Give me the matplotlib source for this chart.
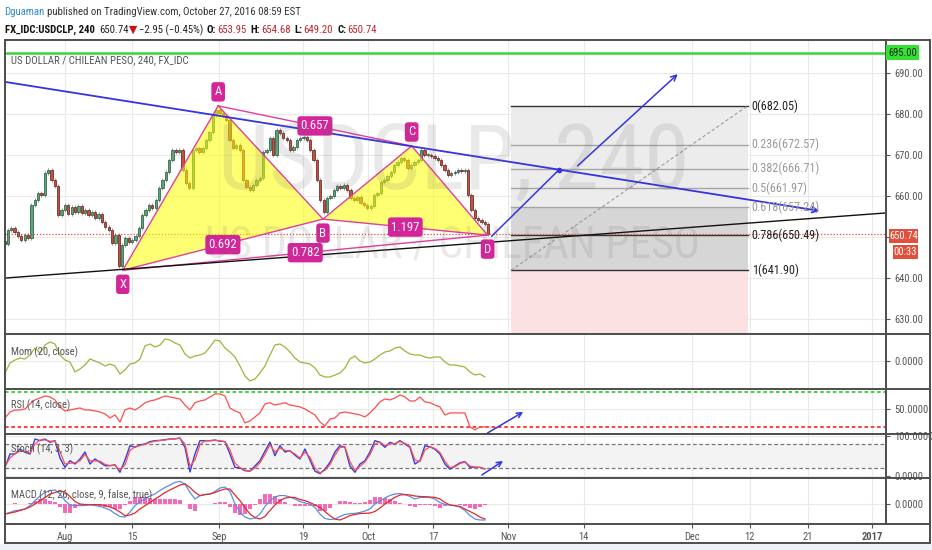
import numpy as np
import matplotlib
matplotlib.use('Agg')
import matplotlib.pyplot as plt
from matplotlib import font_manager as fm
from matplotlib.patches import Polygon, Rectangle
from matplotlib.lines import Line2D

# ---------------- data ----------------
header_user = "Dguaman"
header_rest = "published on TradingView.com, October 27, 2016 08:59 EST"
symbol = "FX_IDC:USDCLP, 240"
last_price_txt = "650.74"
change_txt = "\u22122.95 (\u22120.45%)"
ohlc_keys = ["O:", "H:", "L:", "C:"]
ohlc_vals = ["653.95", "654.68", "649.20", "650.74"]
chart_title = "US DOLLAR / CHILEAN PESO, 240, FX_IDC"
watermark_big = "USDCLP, 240"
watermark_small = "US DOLLAR / CHILEAN PESO"

date_tick_pos = [0, 10, 22.9, 35.4, 45.1, 54.8, 66.0, 77.2, 93.3, 101.9, 110.6, 120.1]
date_tick_labels = ["Aug", "15", "Sep", "19", "Oct", "17", "Nov", "14", "Dec", "12", "21", "2017"]
price_ticks = [630, 640, 650, 660, 670, 680, 690]

first_open = 649.0
closes = [
    648.4, 651.7, 652.2, 651.2, 650.3, 649.3, 650.5, 649.8, 657.8, 659.1,
    660.8, 660.3, 665.6, 666.4, 663.9, 662.5, 655.4, 656.6, 657.8, 655.6,
    657.3, 656.1, 657.5, 655.9, 656.6, 655.4, 656.1, 654.7, 655.6, 653.7,
    652.5, 651.7, 648.6, 650.5, 643.0, 648.1, 649.8, 648.8, 649.3, 650.3,
    652.2, 655.4, 656.6, 657.8, 657.0, 659.1, 662.0, 663.9, 665.9, 668.8,
    671.3, 670.8, 671.3, 666.4, 663.2, 662.0, 671.3, 671.8, 670.8, 671.8,
    673.7, 675.7, 679.8, 681.0, 680.3, 679.5, 678.6, 673.7, 671.8, 672.5,
    671.3, 663.9, 662.3, 661.5, 662.7, 663.9, 664.4, 670.8, 671.3, 674.2,
    670.0, 676.2, 675.4, 674.2, 673.7, 671.3, 672.0, 673.7, 674.2, 674.4,
    673.7, 671.3, 668.8, 663.9, 659.1, 656.1, 659.6, 660.1, 661.5, 662.5,
    662.0, 662.7, 661.5, 659.6, 659.1, 659.8, 658.3, 657.8, 657.0, 657.5,
    660.3, 660.8, 663.5, 663.9, 664.9, 665.9, 667.6, 668.3, 669.3, 668.8,
    666.9, 667.6, 668.3, 668.8, 671.3, 670.0, 670.0, 669.8, 669.3, 668.8,
    667.6, 666.4, 665.2, 665.7, 665.9, 666.4, 666.2, 666.4, 660.3, 656.6,
    654.7, 654.2, 653.7, 653.2, 650.7]

pattern_names = ["X", "A", "B", "C", "D"]
pattern_t = [8.6, 22.8, 38.4, 51.6, 62.9]
pattern_price = [641.90, 682.05, 654.40, 672.25, 650.49]
ratio_pairs = [(0, 2), (1, 3), (2, 4), (0, 4)]
ratio_labels = ["0.692", "0.657", "1.197", "0.782"]

fib_ratios = [0, 0.236, 0.382, 0.5, 0.618, 0.786, 1]
fib_prices = [682.05, 672.57, 666.71, 661.97, 657.24, 650.49, 641.90]
fib_t = [66.4, 101.6]

resistance_t = [-8.93, 112.3]
resistance_p = [687.9, 656.4]
support_t = [-8.93, 122.2]
support_p = [640.0, 655.9]
proj1_t = [63.5, 73.5]
proj1_p = [650.2, 666.4]
proj2_t = [76.3, 91.2]
proj2_p = [667.4, 689.8]
alert_level = 695.0
last_price = 650.74

mom = [
    -6.0, -1.0, 0.5, 1.5, 1.0, 3.0, 6.5, 4.0, 8.0, 9.5,
    8.5, 3.0, 0.5, -0.5, -5.5, -4.0, -2.0, 1.0, 0.0, -1.0,
    -2.5, -1.5, -2.5, -6.5, -4.5, -1.5, -1.0, 1.0, 7.5, 8.5,
    7.0, 8.0, 11.0, 10.5, 9.0, 8.0, 3.5, 1.5, 2.5, 3.0,
    4.0, 7.0, 10.5, 10.0, 6.5, 4.5, 2.0, -2.5, -7.5, -10.0,
    -9.0, -6.0, -2.5, 3.0, 8.0, 8.5, 7.0, 4.5, 1.5, -0.5,
    -1.0, -1.5, -3.5, -7.0, -8.0, -8.0, -7.0, -6.0, -3.5, 1.0,
    2.5, 0.0, -1.0, -0.5, 1.0, 3.0, 4.5, 5.0, 6.5, 7.0,
    5.0, 3.5, 3.0, 3.0, 2.0, 1.5, 2.0, 2.0, -0.5, -2.0,
    -2.0, -2.5, -3.0, -5.5, -7.0, -6.5, -8.0]

rsi = [
    40.3, 47.1, 49.4, 49.4, 50.6, 56.3, 60.9, 63.1, 65.4, 64.3,
    60.9, 52.9, 48.3, 49.4, 50.6, 51.7, 49.4, 49.4, 48.3, 47.1,
    44.9, 40.3, 43.7, 35.7, 49.4, 51.7, 49.4, 52.9, 57.7, 59.7,
    60.9, 63.1, 65.4, 64.3, 63.1, 62.0, 55.1, 49.4, 57.7, 59.7,
    60.9, 64.3, 67.7, 67.7, 65.4, 51.7, 48.3, 46.0, 34.6, 36.9,
    41.4, 46.0, 56.3, 57.7, 55.1, 56.3, 57.7, 55.1, 54.0, 52.9,
    50.6, 47.1, 43.7, 35.7, 31.1, 39.1, 40.3, 46.0, 47.1, 46.0,
    44.9, 43.7, 41.4, 46.0, 51.7, 58.7, 62.0, 60.9, 63.1, 66.6,
    64.3, 59.7, 59.7, 64.3, 58.7, 57.7, 55.1, 52.9, 43.7, 46.0,
    46.0, 46.0, 46.0, 30.0, 26.6, 30.0, 30.0]

stoch_k = [
    21.7, 55, 55, 67.5, 59.2, 55, 92.5, 88.3, 92.5, 84.2,
    88.3, 45, 21.7, 38.3, 30, 42.5, 60, 30, 42.5, 34.2,
    25.8, 25.8, 28, 9.2, 40, 75.8, 71.7, 78, 80, 86,
    88.3, 89, 91, 92.5, 93, 95, 71.7, 10, 55, 88.3,
    88.3, 88.3, 90, 87, 86, 55, 21.7, 20, 13.3, 12,
    25, 38, 62, 85, 50.8, 75.8, 60, 63.3, 52, 42.5,
    67.5, 40, 12, 6, 17, 34, 60, 75.8, 71.7, 25,
    9.2, 30, 38, 60, 88.3, 84.2, 71.7, 84.2, 80, 88.3,
    80, 71.7, 30, 38, 75.8, 73, 67, 55, 30, 17,
    25, 33, 36, 21.7, 21.7, 21.7, 17.5]

stoch_d = [
    25, 45, 56, 62, 62, 57, 80, 90, 90, 87,
    87, 60, 30, 32, 33, 38, 54, 38, 38, 37,
    29, 26, 27, 14, 28, 64, 73, 76, 79, 84,
    87, 89, 90, 92, 93, 94, 80, 25, 40, 78,
    88, 88, 89, 88, 86, 65, 32, 21, 15, 12,
    20, 33, 54, 78, 60, 70, 64, 62, 55, 45,
    60, 47, 20, 8, 14, 28, 52, 71, 73, 36,
    14, 24, 35, 53, 80, 85, 76, 80, 81, 86,
    82, 74, 40, 36, 65, 73, 69, 59, 37, 21,
    23, 31, 35, 25, 22, 21, 18]

macd = [
    -2.0, -1.7, -1.33, -1.2, -1.0, -0.3, 0.67, 1.6, 2.3, 2.7,
    2.8, 2.0, 0.67, -0.2, -0.33, -0.33, -0.3, -0.15, -0.3, -0.5,
    -0.8, -1.2, -1.9, -2.5, -2.6, -1.6, -0.33, 0.5, 1.0, 1.6,
    2.0, 2.7, 3.3, 3.8, 4.33, 4.53, 4.0, 2.33, 1.0, 1.67,
    1.87, 2.0, 2.5, 3.2, 3.4, 2.5, 0.0, -1.6, -2.6, -3.0,
    -2.8, -2.0, -0.5, 0.7, 1.4, 1.7, 1.67, 1.4, 1.0, 0.5,
    0.2, 0.0, -0.67, -2.0, -2.9, -3.1, -3.0, -2.5, -2.1, -1.95,
    -1.87, -1.7, -1.4, -1.0, 0.0, 0.6, 1.2, 1.7, 2.0, 2.1,
    1.9, 1.5, 1.0, 1.3, 1.33, 1.3, 1.0, 0.3, -0.1, -0.2,
    -0.33, -0.6, -1.3, -2.3, -3.0, -3.2, -3.2]

signal = [
    -2.0, -1.8, -1.6, -1.3, -1.0, -0.6, 0.0, 0.67, 1.3, 2.0,
    2.3, 2.6, 2.4, 1.5, 0.5, 0.0, -0.1, -0.13, -0.13, -0.15,
    -0.3, -0.6, -1.0, -1.6, -2.33, -2.2, -1.8, -1.0, -0.33, 0.3,
    1.0, 1.6, 2.3, 2.8, 3.3, 3.8, 4.0, 3.3, 2.33, 1.67,
    1.9, 2.0, 2.3, 2.7, 3.0, 3.0, 1.8, 0.67, -0.7, -2.0,
    -2.7, -3.0, -2.5, -1.3, -0.2, 0.67, 1.2, 1.33, 1.3, 0.9,
    0.67, 0.3, -0.2, -0.67, -1.5, -2.33, -3.0, -3.2, -2.8, -2.33,
    -2.1, -1.9, -1.87, -1.8, -1.5, -0.8, 0.0, 0.67, 1.33, 1.8,
    1.87, 1.8, 1.6, 1.5, 1.47, 1.4, 1.33, 1.0, 0.3, -0.2,
    -0.33, -0.5, -1.0, -1.5, -2.0, -2.6, -3.0]

rsi_arrow_t = [62.9, 68.2]
rsi_arrow_v = [23.1, 47.1]
stoch_arrow_t = [62.05, 65.2]
stoch_arrow_v = [2.5, 37.5]

# ---------------- fonts ----------------
names = {f.name for f in fm.fontManager.ttflist}
FAMILY, STRETCH, SF = 'Liberation Sans', 'normal', 1.0
for pref in ['Liberation Sans Narrow', 'Roboto Condensed', 'Open Sans Condensed',
             'Noto Sans Condensed', 'DejaVu Sans Condensed']:
    if pref in names:
        FAMILY, SF = pref, 1.15
        break
else:
    if any(f.name == 'DejaVu Sans' and f.stretch == 'condensed' for f in fm.fontManager.ttflist):
        FAMILY, STRETCH, SF = 'DejaVu Sans', 'condensed', 0.95
plt.rcParams['font.family'] = [FAMILY, 'DejaVu Sans']
plt.rcParams['font.stretch'] = STRETCH


def fs(v):
    return v * SF


# ---------------- layout ----------------
W, H = 932, 550
fig = plt.figure(figsize=(W / 100, H / 100), dpi=100)
fig.patch.set_facecolor('white')
renderer = fig.canvas.get_renderer()


def fx(x):
    return x / W


def fy(y):
    return 1 - y / H


def fit(txt, target_w):
    """Scale a text's font size so that its rendered width matches the reference."""
    w = txt.get_window_extent(renderer).width
    if w > 0:
        txt.set_fontsize(txt.get_fontsize() * target_w / w)
    return txt


PL, PR = 5, 886
XMIN, XMAX = -8.93, 122.2
GRID = '#e9e9e9'
TXT = '#555555'


def add_pane(top, bottom):
    a = fig.add_axes([fx(PL), fy(bottom), (PR - PL) / W, (bottom - top) / H])
    a.set_xlim(XMIN, XMAX)
    for s in a.spines.values():
        s.set_visible(False)
    a.set_xticks(date_tick_pos)
    a.yaxis.tick_right()
    a.tick_params(axis='y', length=3, width=0.8, pad=3, labelsize=fs(6.6), colors=TXT)
    a.tick_params(axis='x', length=0, labelbottom=False)
    a.grid(True, color=GRID, lw=0.8)
    a.set_axisbelow(True)
    a.set_facecolor('none')
    return a


ax = add_pane(40, 334)
axm = add_pane(334, 389)
axr = add_pane(389, 434)
axs = add_pane(434, 478)
axd = add_pane(478, 524)

# ---- main price pane ----
ax.set_ylim(626.34, 698.13)
ax.set_yticks(price_ticks)
# the 650 label sits under the last-price marker, as in the reference
ax.set_yticklabels(["" if abs(p - last_price) < 3 else f"{p:.2f}" for p in price_ticks])

c = np.array(closes)
o = np.array([first_open] + closes[:-1])
tc = -9.0 + 0.5 * np.arange(len(c))
hi = np.maximum(o, c) + 0.5
lo = np.minimum(o, c) - 0.5
ax.vlines(tc, lo, hi, color='#8c8c8c', lw=0.6, zorder=2)
up = c >= o
body = np.maximum(np.abs(c - o), 0.2)
ax.bar(tc[up], body[up], bottom=o[up], width=0.34, color='#5aa57a',
       edgecolor='#225437', lw=0.5, zorder=3)
ax.bar(tc[~up], body[~up], bottom=c[~up], width=0.34, color='#c8503e',
       edgecolor='#5b1a13', lw=0.5, zorder=3)

# fib / position tool
ylo = ax.get_ylim()[0]
ax.fill_between(fib_t, fib_prices[4], fib_prices[0], color='#ececec', lw=0, zorder=1)
ax.fill_between(fib_t, fib_prices[6], fib_prices[4], color='#d6d6d6', lw=0, zorder=1)
ax.fill_between(fib_t, ylo, fib_prices[6], color='#fbe1e1', lw=0, zorder=1)
dark = {0, 0.786, 1}
for r, p in zip(fib_ratios, fib_prices):
    col = '#333333' if r in dark else '#a5a5a5'
    tcol = '#222222' if r in dark else '#9a9a9a'
    ax.plot(fib_t, [p, p], color=col, lw=1, zorder=2.5)
    ax.annotate(f"{r:g}({p:.2f})", (fib_t[1], p), xytext=(4, 0), textcoords='offset pixels',
                va='center', ha='left', fontsize=fs(7.6), color=tcol, zorder=6)
ax.plot(fib_t, [fib_prices[-1], fib_prices[0]], color='#9a9a9a', lw=0.8,
        ls=(0, (3, 2)), zorder=2.5)

# watermark (real text), sized to the reference's width
fit(fig.text(fx(454), fy(163), watermark_big, ha='center', va='center', fontsize=50,
             color=(0.4, 0.4, 0.4, 0.14), zorder=0.5), 472)
fit(fig.text(fx(452), fy(246), watermark_small, ha='center', va='center', fontsize=25,
             color=(0.4, 0.4, 0.4, 0.14), zorder=0.5), 495)

# horizontal lines
ax.axhline(alert_level, color='#3dd23d', lw=1.8, zorder=4)
ax.axhline(last_price, color='#e04a3a', lw=0.9, ls=(0, (1, 1.5)), zorder=4)

# harmonic pattern
P = list(zip(pattern_t, pattern_price))
for tri in [(0, 1, 2), (2, 3, 4)]:
    ax.add_patch(Polygon([P[i] for i in tri], closed=True, fc=(1, 1, 0.0, 0.55), ec='none', zorder=4))
PINK = '#e0409c'
for a_, b_ in [(0, 1), (1, 2), (2, 3), (3, 4)] + ratio_pairs:
    ax.plot([P[a_][0], P[b_][0]], [P[a_][1], P[b_][1]], color=PINK, lw=1, zorder=5)
box = dict(boxstyle='round,pad=0.25,rounding_size=0.25', fc='#d4259a', ec='none')
for (a_, b_), lab in zip(ratio_pairs, ratio_labels):
    mx, my = (P[a_][0] + P[b_][0]) / 2, (P[a_][1] + P[b_][1]) / 2
    ax.text(mx, my, lab, ha='center', va='center', color='white', fontsize=fs(8),
            bbox=box, zorder=7)
offs = [-14, 14, -14, 14, -14]
for (pt, lab, dy) in zip(P, pattern_names, offs):
    ax.annotate(lab, pt, xytext=(0, dy), textcoords='offset pixels', ha='center',
                va='center', color='white', fontsize=fs(8), bbox=box, zorder=7)

# trend lines
BLUE = '#3434e0'
ax.annotate('', xy=(resistance_t[1], resistance_p[1]), xytext=(resistance_t[0], resistance_p[0]),
            arrowprops=dict(arrowstyle='->', color=BLUE, lw=1.3, shrinkA=0, shrinkB=0,
                            mutation_scale=10), zorder=5)
ax.plot(support_t, support_p, color='#111111', lw=1, zorder=5)
ax.annotate('', xy=(proj1_t[1], proj1_p[1]), xytext=(proj1_t[0], proj1_p[0]),
            arrowprops=dict(arrowstyle='-', color=BLUE, lw=1.1, shrinkA=0, shrinkB=0), zorder=5)
ax.plot([proj1_t[1]], [proj1_p[1]], 'o', color=BLUE, ms=3, zorder=5)
ax.annotate('', xy=(proj2_t[1], proj2_p[1]), xytext=(proj2_t[0], proj2_p[0]),
            arrowprops=dict(arrowstyle='->', color=BLUE, lw=1.1, shrinkA=0, shrinkB=0,
                            mutation_scale=10), zorder=5)

fit(fig.text(fx(11), fy(60), chart_title, fontsize=8, color=TXT, va='center', ha='left'), 178)

# ---- indicator panes ----
ti = (5 + 5 * np.arange(len(mom)) - 65) / 6.72

axm.set_ylim(-14, 13.5)
axm.set_yticks([0])
axm.set_yticklabels(['0.0000'])
axm.plot(ti, mom, color='#a7b03a', lw=0.9)

axr.set_ylim(21.9, 73.4)
axr.set_yticks([50])
axr.set_yticklabels(['50.0000'])
axr.axhline(70, color='#33d033', lw=1.3, ls=(0, (2, 1.5)))
axr.axhline(30, color='#ff3030', lw=1.3, ls=(0, (2, 1.5)))
axr.plot(ti, rsi, color='#ff4d4d', lw=0.9)
axr.annotate('', xy=(rsi_arrow_t[1], rsi_arrow_v[1]), xytext=(rsi_arrow_t[0], rsi_arrow_v[0]),
             arrowprops=dict(arrowstyle='->', color=BLUE, lw=1.1, shrinkA=0, shrinkB=0,
                             mutation_scale=9), annotation_clip=False)

axs.set_ylim(-5, 105)
axs.set_yticks([0, 100])
axs.set_yticklabels(['0.0000', '100.0000'])
axs.axhspan(20, 80, color='#f3f3f3', lw=0, zorder=0.6)
axs.axhline(80, color='#777777', lw=0.9, ls=(0, (3, 2)))
axs.axhline(20, color='#777777', lw=0.9, ls=(0, (3, 2)))
axs.plot(ti, stoch_k, color='#3a3ae6', lw=1.0)
axs.plot(ti, stoch_d, color='#ff5050', lw=0.9)
axs.annotate('', xy=(stoch_arrow_t[1], stoch_arrow_v[1]), xytext=(stoch_arrow_t[0], stoch_arrow_v[0]),
             arrowprops=dict(arrowstyle='->', color=BLUE, lw=1.1, shrinkA=0, shrinkB=0,
                             mutation_scale=9), annotation_clip=False)

axd.set_ylim(-4, 5.2)
axd.set_yticks([0])
axd.set_yticklabels(['0.0000'])
hist = np.array(macd) - np.array(signal)
axd.bar(ti, hist, width=0.55, color='#f26bb4', lw=0, zorder=1.5)
axd.plot(ti, macd, color='#5a8ee6', lw=0.9, zorder=2)
axd.plot(ti, signal, color='#e02a2a', lw=0.9, zorder=2)
axd.set_xticklabels(date_tick_labels)
axd.tick_params(axis='x', length=3, width=0.8, color=TXT, labelbottom=True,
                labelsize=fs(6.6), labelcolor=TXT, pad=3)
axd.get_xticklabels()[-1].set_fontweight('bold')

pane_labels = [("Mom (20, close)", 352), ("RSI (14, close)", 405),
               ("Stoch (14, 3, 3)", 449), ("MACD (12, 26, close, 9, false, true)", 495)]
first = fit(fig.text(fx(11), fy(pane_labels[0][1]), pane_labels[0][0], fontsize=8, color=TXT,
                     va='center', ha='left'), 68)
for s, y in pane_labels[1:]:
    fig.text(fx(11), fy(y), s, fontsize=first.get_fontsize(), color=TXT, va='center', ha='left')

# ---- frame lines ----
FR = '#4d4d4d'
for y in [40, 334, 389, 434, 478, 524, 543]:
    fig.add_artist(Line2D([fx(PL), fx(930)], [fy(y), fy(y)], color=FR, lw=1.4))
for x, y0, y1 in [(PL, 40, 543), (PR, 40, 524), (930, 40, 543)]:
    fig.add_artist(Line2D([fx(x), fx(x)], [fy(y0), fy(y1)], color=FR, lw=1.4))
fig.add_artist(Rectangle((0, 0), 1, fy(544), transform=fig.transFigure, color='#eef1f4', lw=0))


# ---- right axis boxes ----
def axis_box(x0, y0, x1, y1, fc, s, tc):
    fig.add_artist(Rectangle((fx(x0), fy(y1)), (x1 - x0) / W, (y1 - y0) / H,
                             transform=fig.transFigure, color=fc, lw=0, zorder=5))
    fig.text(fx((x0 + x1) / 2), fy((y0 + y1) / 2), s, ha='center', va='center',
             fontsize=fs(6.6), color=tc, zorder=6)


axis_box(886, 45, 919, 60, '#33e033', f"{alert_level:.2f}", '#222222')
axis_box(889, 229, 918, 243, '#e0503c', f"{last_price:.2f}", 'white')
axis_box(893, 245, 918, 259, '#e0503c', "00:33", 'white')


# ---- header (each line fitted to the reference's width) ----
def seq(x, y, pieces, size, target_w):
    for attempt in range(2):
        xs, made = x, []
        for s, col, wt, gap in pieces:
            t = fig.text(fx(xs), fy(y), s, fontsize=size, color=col, fontweight=wt,
                         va='center', ha='left')
            made.append(t)
            xs = t.get_window_extent(renderer).x1 + gap
        if attempt == 0:
            width = xs - x
            for t in made:
                t.remove()
            size = size * target_w / width


seq(4, 12, [(header_user, '#2b8cd6', 'normal', 3), (header_rest, '#333333', 'normal', 0)], 8, 298)
pieces = [(symbol, '#111111', 'bold', 4), (last_price_txt, '#222222', 'normal', 1),
          ("\u25bc", '#cc1111', 'normal', 1), (change_txt, '#222222', 'normal', 4)]
for k, v in zip(ohlc_keys, ohlc_vals):
    pieces.append((k, '#111111', 'bold', 1))
    pieces.append((v, '#c0262d', 'normal', 4))
seq(5, 30, pieces, 8, 374)

fig.savefig('out.png', dpi=100, facecolor='white')
